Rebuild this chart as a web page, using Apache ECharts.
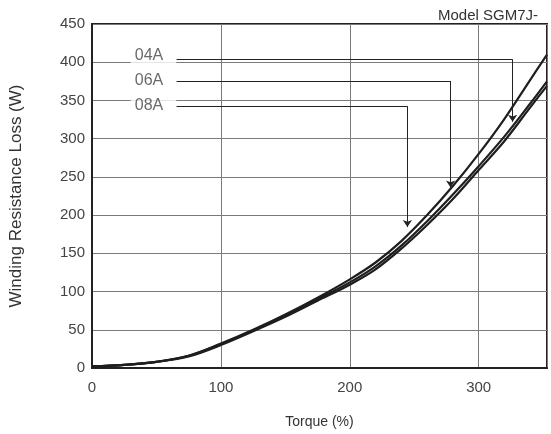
<!DOCTYPE html>
<html>
<head>
<meta charset="utf-8">
<script src="https://cdn.jsdelivr.net/npm/echarts@6/dist/echarts.min.js"></script>
<style>html,body{margin:0;padding:0;background:#fff}#c{width:551px;height:434px}</style>
</head>
<body>
<div id="c"></div>
<script>
// Torque (%) sample points
var torque = [0, 25, 50, 75, 100, 125, 150, 175, 200, 220, 240, 260, 280, 300, 320, 340, 353];
// Winding resistance loss (W)
var loss04A = [2, 4, 8, 16, 32, 50, 70, 92, 116, 138, 166, 200, 238, 280, 326, 377, 410];
var loss06A = [2, 4, 8, 16, 31, 49, 69, 90, 112, 133, 160, 192, 227, 264, 303, 346, 375];
var loss08A = [2, 4, 8, 15, 30, 48, 67, 88, 109, 129, 156, 187, 221, 259, 297, 341, 369];
var seriesNames = ['04A', '06A', '08A'];
// Annotation: label anchor [torque, loss] and leader polyline points
var labelPos = [[47.7, 409], [47.7, 376.4], [47.7, 343.3]];
var leader04A = [[65.5, 403.5], [326.3, 403.5], [326.3, 322]];
var leader06A = [[65.5, 375.5], [278.2, 375.5], [278.2, 236]];
var leader08A = [[65.5, 342.5], [244.7, 342.5], [244.7, 184.4]];
var xTicks = [0, 100, 200, 300];
var yMin = 0, yMax = 450, yStep = 50, xMin = 0, xMax = 353, xStep = 100;
var modelTitle = 'Model SGM7J-';
var xTitle = 'Torque (%)';
var yTitle = 'Winding Resistance Loss (W)';

function zip(xs, ys) { return xs.map(function (x, i) { return [x, ys[i]]; }); }
var font = '"Liberation Sans", Arial, sans-serif';
var curveStyle = { color: '#1e1e1e', width: 2.2 };
var allLoss = [loss04A, loss06A, loss08A];
var leaders = [leader04A, leader06A, leader08A];

var series = allLoss.map(function (d, i) {
  return {
    name: seriesNames[i], type: 'line', data: zip(torque, d), smooth: 0.35,
    symbol: 'none', lineStyle: curveStyle, z: 3
  };
});
// horizontal leader segments
series.push({
  type: 'lines', coordinateSystem: 'cartesian2d', z: 4,
  symbol: ['none', 'none'],
  lineStyle: { color: '#222', width: 1, opacity: 1 },
  data: leaders.map(function (c) { return { coords: [c[0], c[1]] }; })
});
// vertical leader segments with arrowheads
series.push({
  type: 'lines', coordinateSystem: 'cartesian2d', z: 4,
  symbol: ['none', 'arrow'], symbolSize: [0, 7],
  lineStyle: { color: '#222', width: 1, opacity: 1 },
  itemStyle: { color: '#222' },
  data: leaders.map(function (c) { return { coords: [c[1], c[2]] }; })
});
series.push({
  type: 'scatter', symbolSize: 0, z: 5,
  data: labelPos.map(function (p, i) { return { value: p, name: seriesNames[i] }; }),
  label: {
    show: true, position: 'inside', formatter: '{b}',
    backgroundColor: '#fff', padding: [2, 13, 2, 4],
    color: '#444', fontSize: 16, fontFamily: font
  }
});

var chart = echarts.init(document.getElementById('c'));
chart.setOption({
  animation: false,
  title: { text: modelTitle, right: 8, top: 3, textStyle: { fontSize: 15, fontWeight: 'normal', color: '#333', fontFamily: font } },
  grid: { left: 88, right: 4, top: 24, bottom: 61, show: true, borderColor: '#222', borderWidth: 2, backgroundColor: 'transparent' },
  xAxis: {
    type: 'value', min: xMin, max: xMax, interval: xStep,
    name: xTitle, nameLocation: 'middle', nameGap: 47,
    nameTextStyle: { fontSize: 14, color: '#333', fontFamily: font },
    axisLine: { show: true, lineStyle: { color: '#222', width: 2 } },
    axisTick: { show: false },
    axisLabel: { color: '#444', fontSize: 15, fontFamily: font, margin: 12, showMaxLabel: false,
      formatter: function (v) { return xTicks.indexOf(v) >= 0 ? String(v) : ''; } },
    splitLine: { show: true, lineStyle: { color: '#7a7a7a', width: 1 } }
  },
  yAxis: {
    type: 'value', min: yMin, max: yMax, interval: yStep,
    name: yTitle, nameLocation: 'middle', nameGap: 67,
    nameTextStyle: { fontSize: 17, color: '#333', fontFamily: font },
    axisLine: { show: true, lineStyle: { color: '#222', width: 2 } },
    axisTick: { show: false },
    axisLabel: { color: '#444', fontSize: 15, fontFamily: font, margin: 7 },
    splitLine: { show: true, lineStyle: { color: '#7a7a7a', width: 1 } }
  },
  series: series
});
</script>
</body>
</html>
